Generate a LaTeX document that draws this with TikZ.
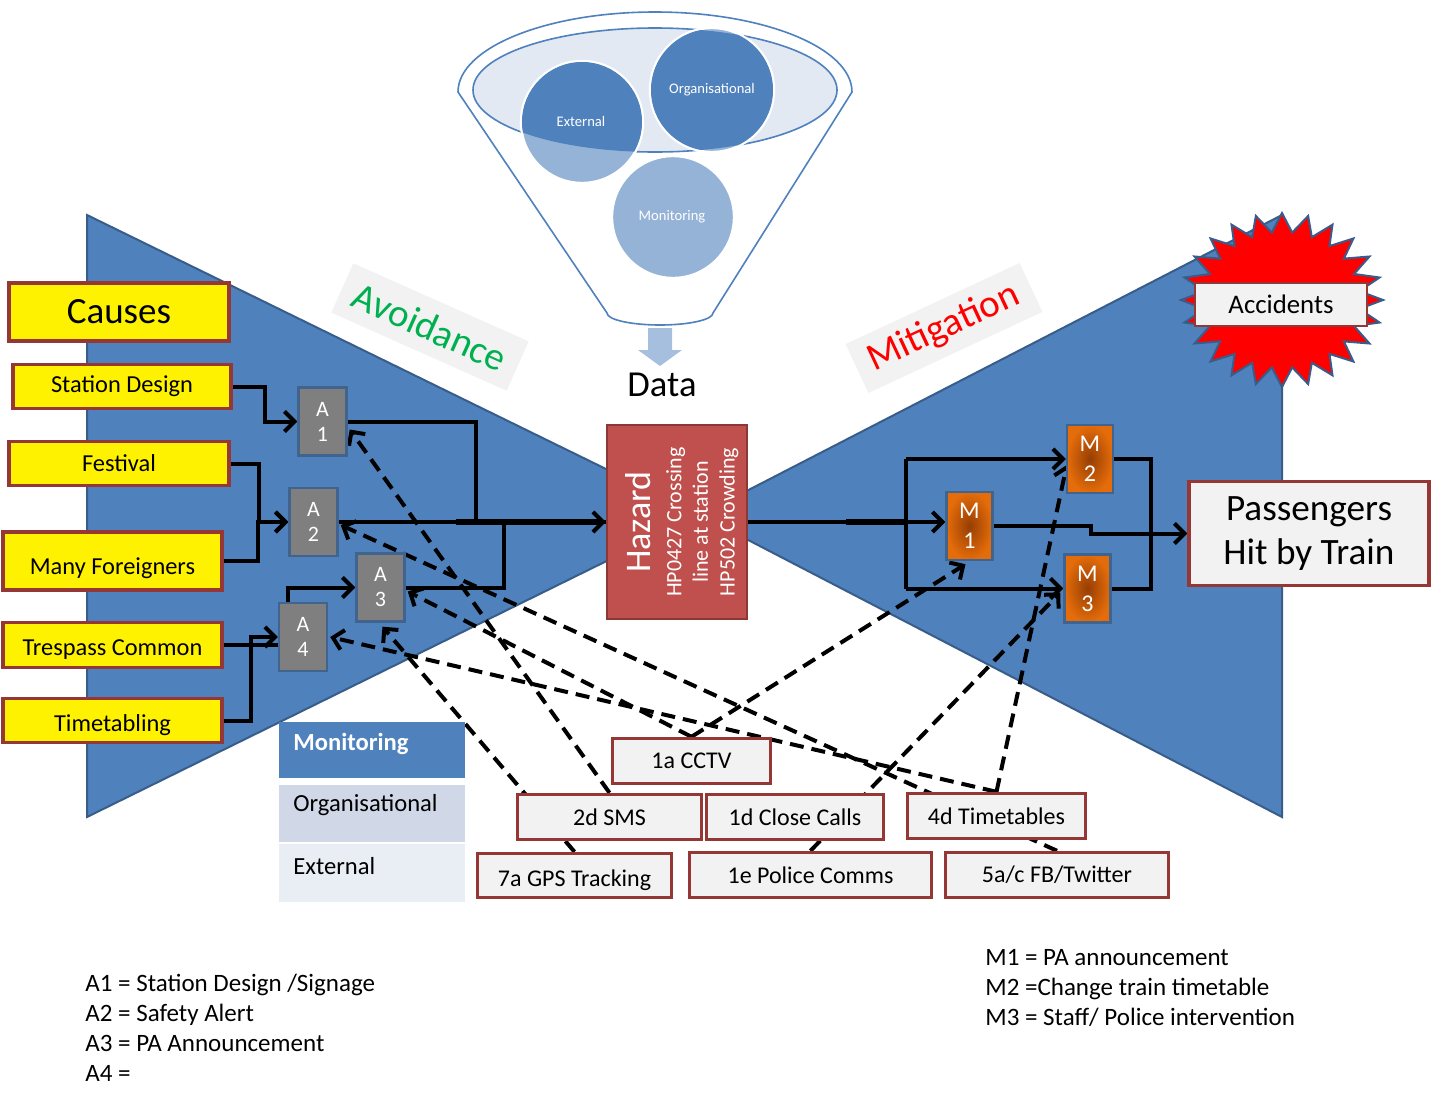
\documentclass[tikz,border=0pt]{standalone}
\usepackage{fontspec}
\setmainfont{Carlito}
\usetikzlibrary{arrows.meta,calc}

\definecolor{bowblue}{HTML}{4F81BD}
\definecolor{bowedge}{HTML}{385D8A}
\definecolor{causeedge}{HTML}{953735}
\definecolor{boxgrey}{HTML}{F2F2F2}
\definecolor{hazred}{HTML}{C0504D}
\definecolor{hazedge}{HTML}{8C3836}
\definecolor{agrey}{HTML}{7F7F7F}
\definecolor{aedge}{HTML}{41648F}
\definecolor{mouter}{HTML}{E46C0A}
\definecolor{minner}{HTML}{963E04}
\definecolor{lightblue}{HTML}{95B3D7}
\definecolor{funnelfill}{HTML}{E3E9F3}
\definecolor{arrowfill}{HTML}{A7BFDE}
\definecolor{orgcell}{HTML}{D0D8E8}
\definecolor{extcell}{HTML}{E9EDF4}
\definecolor{avgreen}{HTML}{00B050}

\pgfdeclarelayer{back}
\pgfdeclarelayer{wires}
\pgfsetlayers{back,wires,main}

\begin{document}
\begin{tikzpicture}[x=0.5pt,y=-0.5pt,
  wire/.style={line width=2pt},
  dwire/.style={line width=2pt, dash pattern=on 7pt off 4pt},
  endtip/.style={-{Straight Barb[length=5pt,width=10pt]}},
  cause/.style={draw=causeedge, line width=1.7pt, fill=yellow, inner sep=0pt,
    font=\fontsize{12.2}{14}\selectfont},
  src/.style={draw=causeedge, line width=1.7pt, fill=boxgrey, inner sep=0pt,
    font=\fontsize{12}{14}\selectfont},
  abox/.style={draw=aedge, line width=1.2pt, fill=agrey, text=white, inner sep=0pt,
    align=center, minimum width=24pt, minimum height=34pt,
    font=\fontsize{11}{12.5}\selectfont},
  mbox/.style={draw=aedge, line width=1.2pt, inner color=minner, outer color=mouter,
    text=white, inner sep=0pt, align=center, minimum width=23pt, minimum height=34pt,
    font=\fontsize{12}{15}\selectfont},
  ftext/.style={text=white, font=\fontsize{7.3}{8}\selectfont},
  legtext/.style={anchor=west, inner sep=0pt, font=\fontsize{12.3}{14}\selectfont},
  tag/.style={fill=boxgrey, inner sep=0pt, minimum width=96pt, minimum height=27pt,
    font=\fontsize{19.5}{20}\selectfont}
]
\useasboundingbox (0,0) rectangle (1432,1104);

% ---------- bow tie, funnel and burst ----------
\begin{pgfonlayer}{back}
  \draw[fill=bowblue, draw=bowedge, line width=1pt] (87,215) -- (87,817) -- (700,515) -- cycle;
  \draw[fill=bowblue, draw=bowedge, line width=1pt] (1282,215) -- (1282,817) -- (700,515) -- cycle;

  % funnel
  \draw[draw=bowblue, line width=0.8pt, fill=white] (458,92)
    arc[start angle=180, end angle=360, x radius=197, y radius=80] -- (713,313)
    arc[start angle=0, end angle=180, x radius=53, y radius=12] -- cycle;
  \draw[draw=bowblue, line width=0.8pt, fill=funnelfill] (655,90) ellipse[x radius=182, y radius=62];

  \draw[fill=lightblue, draw=white, line width=1.2pt] (673,217) circle[radius=61];
  \draw[fill=lightblue, draw=white, line width=1.2pt] (582,122) circle[radius=61];
  \draw[fill=lightblue, draw=white, line width=1.2pt] (712,90) circle[radius=62];
  \begin{scope}
    \clip (655,90) ellipse[x radius=182, y radius=62];
    \fill[bowblue] (582,122) circle[radius=60];
    \fill[bowblue] (712,90) circle[radius=61];
  \end{scope}

  % arrow under the funnel
  \fill[arrowfill] (648,328) -- (672,328) -- (672,350) -- (682,350) -- (660,366)
    -- (638,350) -- (648,350) -- cycle;

  % burst behind the accidents label
  \draw[fill=red, draw=bowedge, line width=1pt] (1383,300)
    \foreach \k in {1,...,47} {
      -- ({1282+(isodd(\k)?78:101)*cos(7.5*\k)}, {300+(isodd(\k)?68:87)*sin(7.5*\k)})
    } -- cycle;
\end{pgfonlayer}

% funnel labels
\node[ftext] (fext) at (581,121) {External};
\node[ftext] (forg) at (712,90) {Organisational};
\node[ftext] (fmon) at (672,217) {Monitoring};
\node[font=\fontsize{18.3}{20}\selectfont] (data) at (662,385) {Data};

% side tags
\node[tag, rotate=-24, text=avgreen] (avoid) at (430,327) {Avoidance};
\node[tag, rotate=25, text=red] (mitig) at (944,328) {Mitigation};

% ---------- causes ----------
\node[cause, minimum width=110pt, minimum height=29pt, font=\fontsize{18.5}{20}\selectfont]
  (causes) at (119,312) {Causes};
\node[cause, minimum width=109pt, minimum height=22pt] (sd) at (122,386.5) {Station Design};
\node[cause, minimum width=110pt, minimum height=22pt] (fest) at (119,463.5) {Festival};
\node[cause, minimum width=109.5pt, minimum height=29pt, text height=13.7pt, text depth=0pt]
  (many) at (112.5,561) {Many Foreigners};
\node[cause, minimum width=109.5pt, minimum height=22.5pt, text height=10.5pt, text depth=0pt]
  (tres) at (112.5,645) {Trespass Common};
\node[cause, minimum width=109.5pt, minimum height=22pt, text height=10.5pt, text depth=0pt]
  (tmt) at (112.5,720.5) {Timetabling};

% ---------- barriers ----------
\node[abox] (a1) at (322.5,421.5) {A\\1};
\node[abox] (a2) at (313.5,522) {A\\2};
\node[abox] (a3) at (380.5,587.5) {A\\3};
\node[abox] (a4) at (303,637) {A\\4};

\node[mbox] (m1) at (969.5,526) {M\\1};
\node[mbox] (m2) at (1090,459) {M\\2};
\node[mbox] (m3) at (1087.5,588.5) {M\\3};

% ---------- hazard ----------
\node[draw=hazedge, line width=1.2pt, fill=hazred, minimum width=70pt, minimum height=97pt,
  inner sep=0pt] (hazard) at (677,522) {};
\node[rotate=90, text=white, align=center, inner sep=0pt,
  font=\fontsize{11}{13.3}\selectfont] (haztext) at (682,522)
  {{\fontsize{18}{18}\selectfont Hazard}\\[2pt] HP0427 Crossing\\ line at station\\ HP502 Crowding};

% ---------- consequences ----------
\node[draw=causeedge, line width=1.7pt, fill=boxgrey, minimum width=120pt, minimum height=52pt,
  inner sep=0pt, align=center, font=\fontsize{18.6}{22}\selectfont]
  (pass) at (1309,533.5) {Passengers\\Hit by Train};
\node[draw=causeedge, line width=1.4pt, fill=boxgrey, minimum width=86pt, minimum height=21.5pt,
  inner sep=0pt, font=\fontsize{13.4}{15}\selectfont] (acc) at (1281,304.5) {Accidents};

% ---------- data sources ----------
\node[src, minimum width=79pt, minimum height=22.5pt] (cctv) at (691.5,761) {1a CCTV};
\node[src, minimum width=92pt, minimum height=22.5pt] (sms) at (609.5,817) {2d SMS};
\node[src, minimum width=88.5pt, minimum height=22.5pt] (close) at (795,817) {1d Close Calls};
\node[src, minimum width=89pt, minimum height=22.5pt] (ttb) at (996.5,816) {4d Timetables};
\node[src, minimum width=97pt, minimum height=22pt, text height=10.5pt, text depth=0pt]
  (gps) at (574.5,875.5) {7a GPS Tracking};
\node[src, minimum width=121pt, minimum height=22.5pt] (police) at (810.5,875) {1e Police Comms};
\node[src, minimum width=111.5pt, minimum height=22.5pt] (fb) at (1057,875) {5a/c FB/Twitter};

% ---------- legend ----------
\node[fill=bowblue, minimum width=93pt, minimum height=28pt, inner sep=0pt] (legmon) at (372,750) {};
\node[fill=orgcell, minimum width=93pt, minimum height=28.5pt, inner sep=0pt] (legorg) at (372,813.5) {};
\node[fill=extcell, minimum width=93pt, minimum height=29pt, inner sep=0pt] (legext) at (372,873) {};
\node[legtext, text=white, font=\bfseries\fontsize{12.3}{14}\selectfont] (legmontext) at (293,744) {Monitoring};
\node[legtext] (legorgtext) at (293,805) {Organisational};
\node[legtext] (legexttext) at (293,866) {External};

% ---------- keys ----------
\node[anchor=west, align=left, inner sep=0pt, font=\fontsize{12.5}{15}\selectfont] (akey) at (85,1028)
  {A1 = Station Design /Signage\\A2 = Safety Alert\\A3 = PA Announcement\\A4 =};
\node[anchor=west, align=left, inner sep=0pt, font=\fontsize{12.5}{15}\selectfont] (mkey) at (985,988)
  {M1 = PA announcement\\M2 =Change train timetable\\M3 = Staff/ Police intervention};

% ---------- connectors ----------
\begin{pgfonlayer}{wires}
  % causes to avoidance barriers
  \draw[wire, endtip] (sd.east) -- ++(32,0) |- (a1.west);
  \draw[wire, endtip] (fest.east) -- ++(28,0) |- (a2.west);
  \draw[wire, endtip] (many.east) -- ++(34,0) |- (a2.west);
  \draw[wire] (tres.east) -- (tres.east -| a4.west);
  \draw[wire, endtip] (tmt.east) -- ++(27,0) |- (a4.west);
  \draw[wire, endtip] ($(a4.north)+(-15,0)$) |- (a3.west);

  % avoidance barriers to hazard
  \draw[wire] (a1.east) -- ++(128,0) |- (hazard.west);
  \draw[wire] (a3.east) -- ++(98,0) |- (hazard.west);
  \draw[line width=3pt] ($(hazard.west)+(-150,0)$) -- ($(hazard.west)+(-8,0)$);
  \draw[wire, endtip] (a2.east) -- (hazard.west);

  % hazard to mitigation barriers
  \draw[wire] (hazard.east) -- ++(158,0) coordinate (split);
  \draw[line width=3pt] ($(split)+(-60,0)$) -- (split);
  \draw[wire, endtip] (split) -- (split -| m1.west);
  \draw[wire] (split |- m2.west) -- (split |- m3.west);
  \draw[wire, endtip] (split |- m2.west) -- (m2.west);
  \draw[wire, endtip] (split |- m3.west) -- (m3.west);

  % mitigation barriers to consequence
  \draw[wire] (m2.east) -- ++(37,0) |- (m3.east);
  \draw[wire, endtip] (m1.east) -- ++(97,0) |- (pass.west);

  % data sources feeding barriers
  \draw[dwire, endtip] (sms.north) -- ($(a1.east)+(2,8)$);
  \draw[dwire, endtip] (fb.north) -- ($(a2.east)+(2,3)$);
  \draw[dwire, endtip] (cctv.north) -- ($(a3.east)+(2,4)$);
  \draw[dwire, endtip] (gps.north) -- ($(a3.south)+(2,4)$);
  \draw[dwire, endtip] (ttb.north) -- ($(a4.east)+(2,0)$);
  \draw[dwire, endtip] (cctv.north) -- ($(m1.south)+(-4,3)$);
  \draw[dwire, endtip] (ttb.north) -- ($(m2.west)+(1,6)$);
  \draw[dwire, endtip] (police.north) -- ($(m3.west)+(-3,4)$);
\end{pgfonlayer}
\end{tikzpicture}
\end{document}
